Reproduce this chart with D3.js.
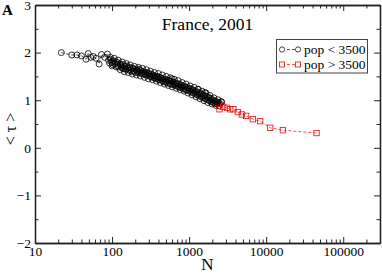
<!DOCTYPE html>
<html>
<head>
<meta charset="utf-8">
<script src="https://cdn.jsdelivr.net/npm/d3@7"></script>
<style>
body { margin: 0; background: #fff; }
text { font-family: "Liberation Serif", "Times New Roman", serif; }
</style>
</head>
<body>
<script>
// pop < 3500 (black circles)
var smallN = [22, 30, 35, 40, 46, 49, 53, 57, 62, 68, 73, 80, 87,
    90, 93, 96, 99, 102, 105, 108, 111, 115, 118, 122, 126, 130, 134, 138, 142, 146, 151, 155, 160,
    165, 170, 175, 180, 186, 192, 198, 204, 210, 216, 223, 230, 237, 244, 251, 259, 267, 275, 283, 292,
    300, 310, 319, 329, 339, 349, 359, 370, 381, 393, 405, 417, 430, 443, 456, 470, 484, 498, 513, 529,
    545, 561, 578, 595, 600, 613, 632, 651, 670, 690, 711, 733, 755, 777, 800, 825, 850, 875, 901, 928,
    956, 985, 1015, 1045, 1077, 1109, 1142, 1176, 1212, 1248, 1286, 1300, 1324, 1364, 1405, 1447, 1491,
    1535, 1581, 1600, 1629, 1678, 1728, 1780, 1833, 1888, 1945, 2003, 2063, 2125, 2189, 2255, 2322,
    2400, 2500, 2600];
var smallTau = [2.00, 1.95, 1.95, 1.93, 1.86, 1.98, 1.90, 1.92, 1.88, 1.76, 1.96, 1.90, 1.97,
    1.84, 1.78, 1.86, 1.80, 1.75, 1.83, 1.77, 1.81, 1.73, 1.79, 1.70, 1.76, 1.72, 1.68, 1.75, 1.66, 1.71, 1.65, 1.72, 1.67,
    1.63, 1.69, 1.64, 1.60, 1.67, 1.61, 1.65, 1.58, 1.63, 1.59, 1.65, 1.57, 1.62, 1.56, 1.60, 1.55, 1.59, 1.53, 1.58, 1.52,
    1.56, 1.50, 1.55, 1.49, 1.53, 1.47, 1.51, 1.46, 1.50, 1.44, 1.49, 1.43, 1.47, 1.41, 1.45, 1.39, 1.44, 1.38, 1.43, 1.36,
    1.41, 1.35, 1.40, 1.34, 1.45, 1.38, 1.32, 1.37, 1.31, 1.35, 1.29, 1.34, 1.27, 1.32, 1.26, 1.30, 1.24, 1.29, 1.22, 1.27,
    1.21, 1.25, 1.19, 1.24, 1.17, 1.22, 1.15, 1.20, 1.13, 1.18, 1.11, 1.23, 1.16, 1.09, 1.14, 1.07, 1.12,
    1.05, 1.10, 1.16, 1.03, 1.08, 1.01, 1.06, 0.99, 1.04, 0.97, 1.01, 0.95, 0.99, 0.93, 0.97, 0.92,
    0.95, 0.93, 0.97];
// more pop < 3500 points on the edges of the band
var spreadN = [95, 100, 107, 113, 120, 128, 136, 144, 153, 162, 172, 183, 195, 207, 220, 233, 248, 263,
    279, 296, 315, 334, 355, 376, 399, 423, 449, 477, 506, 537, 570, 604, 641, 680, 722, 766, 813, 862,
    915, 971, 1030, 1093, 1160, 1231, 1306, 1386, 1470, 1560, 1655, 1756, 1863, 1977, 2098, 2226, 2362,
    2450, 2650];
var spreadTau = [1.90, 1.72, 1.88, 1.70, 1.84, 1.64, 1.80, 1.60, 1.77, 1.58, 1.74, 1.55, 1.71, 1.53, 1.69, 1.51, 1.67, 1.48,
    1.64, 1.45, 1.61, 1.43, 1.58, 1.40, 1.56, 1.37, 1.53, 1.34, 1.50, 1.31, 1.47, 1.28, 1.44, 1.25, 1.41, 1.22, 1.37, 1.19,
    1.34, 1.15, 1.30, 1.11, 1.27, 1.07, 1.23, 1.03, 1.19, 0.99, 1.15, 0.95, 1.10, 0.92, 1.05, 0.89, 1.01,
    0.88, 0.96];

// pop > 3500 (red squares)
var largeN = [2480, 2770, 3090, 3410, 3760, 4290, 4830, 5500, 6720, 8360, 11270, 16480, 45000];
var largeTau = [0.81, 0.86, 0.84, 0.81, 0.81, 0.75, 0.70, 0.67, 0.60, 0.56, 0.42, 0.37, 0.31];

var xMajor = [10, 100, 1000, 10000, 100000];
var yMajor = [-2, -1, 0, 1, 2, 3];
var yMinor = [-1.5, -0.5, 0.5, 1.5, 2.5];
var legendLabels = ["pop < 3500", "pop > 3500"];

var width = 382, height = 273;
var plotLeft = 35, plotRight = 380, plotTop = 5, plotBottom = 243;

var svg = d3.select("body").append("svg")
    .attr("width", width)
    .attr("height", height);

var x = d3.scaleLog().domain([10, 300000]).range([plotLeft, plotRight]);
var y = d3.scaleLinear().domain([-2, 3]).range([plotBottom, plotTop]);

// minor ticks on log axis: 2..9 of each decade
var xMinor = [];
xMajor.forEach(function(d){
    for (var k = 2; k <= 9; k++) {
        if (d * k <= 300000) xMinor.push(d * k);
    }
});

// axes, ticks pointing inward on all four sides
function styleAxis(g){
    g.select(".domain").attr("stroke", "#222").attr("stroke-width", 1.3);
    g.selectAll(".tick line").attr("stroke", "#222");
    g.selectAll("text").attr("fill", "#000").style("font-size", "13.5px")
        .style("font-family", "'Liberation Serif', serif");
}

svg.append("g")
    .attr("transform", "translate(0," + plotBottom + ")")
    .call(d3.axisBottom(x).tickValues(xMajor).tickFormat(d3.format("d")).tickSize(-6).tickSizeOuter(0).tickPadding(3))
    .call(styleAxis);
svg.append("g")
    .attr("transform", "translate(0," + plotBottom + ")")
    .call(d3.axisBottom(x).tickValues(xMinor).tickFormat("").tickSize(-3.5).tickSizeOuter(0))
    .call(styleAxis);
svg.append("g")
    .attr("transform", "translate(0," + plotTop + ")")
    .call(d3.axisTop(x).tickValues(xMajor).tickFormat("").tickSize(-6).tickSizeOuter(0))
    .call(styleAxis);
svg.append("g")
    .attr("transform", "translate(0," + plotTop + ")")
    .call(d3.axisTop(x).tickValues(xMinor).tickFormat("").tickSize(-3.5).tickSizeOuter(0))
    .call(styleAxis);

svg.append("g")
    .attr("transform", "translate(" + plotLeft + ",0)")
    .call(d3.axisLeft(y).tickValues(yMajor).tickFormat(d3.format("d")).tickSize(-6).tickSizeOuter(0).tickPadding(4))
    .call(styleAxis);
svg.append("g")
    .attr("transform", "translate(" + plotLeft + ",0)")
    .call(d3.axisLeft(y).tickValues(yMinor).tickFormat("").tickSize(-3.5).tickSizeOuter(0))
    .call(styleAxis);
svg.append("g")
    .attr("transform", "translate(" + plotRight + ",0)")
    .call(d3.axisRight(y).tickValues(yMajor).tickFormat("").tickSize(-6).tickSizeOuter(0))
    .call(styleAxis);
svg.append("g")
    .attr("transform", "translate(" + plotRight + ",0)")
    .call(d3.axisRight(y).tickValues(yMinor).tickFormat("").tickSize(-3.5).tickSizeOuter(0))
    .call(styleAxis);

// series
var small = smallN.map(function(n, i){ return {n: n, t: smallTau[i]}; })
    .concat(spreadN.map(function(n, i){ return {n: n, t: spreadTau[i]}; }))
    .sort(function(a, b){ return a.n - b.n; });
var large = largeN.map(function(n, i){ return {n: n, t: largeTau[i]}; });

var line = d3.line()
    .x(function(d){ return x(d.n); })
    .y(function(d){ return y(d.t); });

svg.append("path")
    .datum(small)
    .attr("d", line)
    .attr("fill", "none")
    .attr("stroke", "#000")
    .attr("stroke-width", 0.7)
    .attr("stroke-dasharray", "3,2");

svg.selectAll(".small")
    .data(small)
    .enter()
    .append("circle")
    .attr("class", "small")
    .attr("cx", function(d){ return x(d.n); })
    .attr("cy", function(d){ return y(d.t); })
    .attr("r", 3)
    .attr("fill", "none")
    .attr("stroke", "#000")
    .attr("stroke-width", 0.8);

svg.append("path")
    .datum(large)
    .attr("d", line)
    .attr("fill", "none")
    .attr("stroke", "#f00")
    .attr("stroke-width", 0.7)
    .attr("stroke-dasharray", "3,2");

svg.selectAll(".large")
    .data(large)
    .enter()
    .append("rect")
    .attr("class", "large")
    .attr("x", function(d){ return x(d.n) - 2.7; })
    .attr("y", function(d){ return y(d.t) - 2.7; })
    .attr("width", 5.4)
    .attr("height", 5.4)
    .attr("fill", "none")
    .attr("stroke", "#f00")
    .attr("stroke-width", 0.8);

// legend
var legend = svg.append("g");
legend.append("rect")
    .attr("x", 276.5).attr("y", 39.5)
    .attr("width", 91).attr("height", 33.5)
    .attr("fill", "#fff")
    .attr("stroke", "#444")
    .attr("stroke-width", 1);

var colors = ["#000", "#f00"];
legendLabels.forEach(function(label, i){
    var ly = 49.5 + i * 15;
    legend.append("line")
        .attr("x1", 282).attr("x2", 298)
        .attr("y1", ly).attr("y2", ly)
        .attr("stroke", colors[i])
        .attr("stroke-width", 0.7)
        .attr("stroke-dasharray", "3,2");
    [282, 298].forEach(function(mx){
        if (i === 0) {
            legend.append("circle")
                .attr("cx", mx).attr("cy", ly).attr("r", 2.6)
                .attr("fill", "#fff").attr("stroke", "#000").attr("stroke-width", 0.7);
        } else {
            legend.append("rect")
                .attr("x", mx - 2.5).attr("y", ly - 2.5)
                .attr("width", 5).attr("height", 5)
                .attr("fill", "#fff").attr("stroke", "#f00").attr("stroke-width", 0.8);
        }
    });
    legend.append("text")
        .attr("x", 304).attr("y", ly + 4.5)
        .style("font-size", "13.5px")
        .text(label);
});

// title and labels
svg.append("text")
    .attr("x", (plotLeft + plotRight) / 2).attr("y", 30)
    .attr("text-anchor", "middle")
    .style("font-size", "17.5px")
    .text("France, 2001");

svg.append("text")
    .attr("x", 2).attr("y", 15)
    .style("font-size", "15px")
    .style("font-weight", "bold")
    .text("A");

svg.append("text")
    .attr("x", (plotLeft + plotRight) / 2).attr("y", 270)
    .attr("text-anchor", "middle")
    .style("font-size", "17px")
    .text("N");

svg.append("text")
    .attr("transform", "translate(16,129) rotate(-90)")
    .attr("text-anchor", "middle")
    .style("font-size", "16px")
    .text("< τ >");
</script>
</body>
</html>
